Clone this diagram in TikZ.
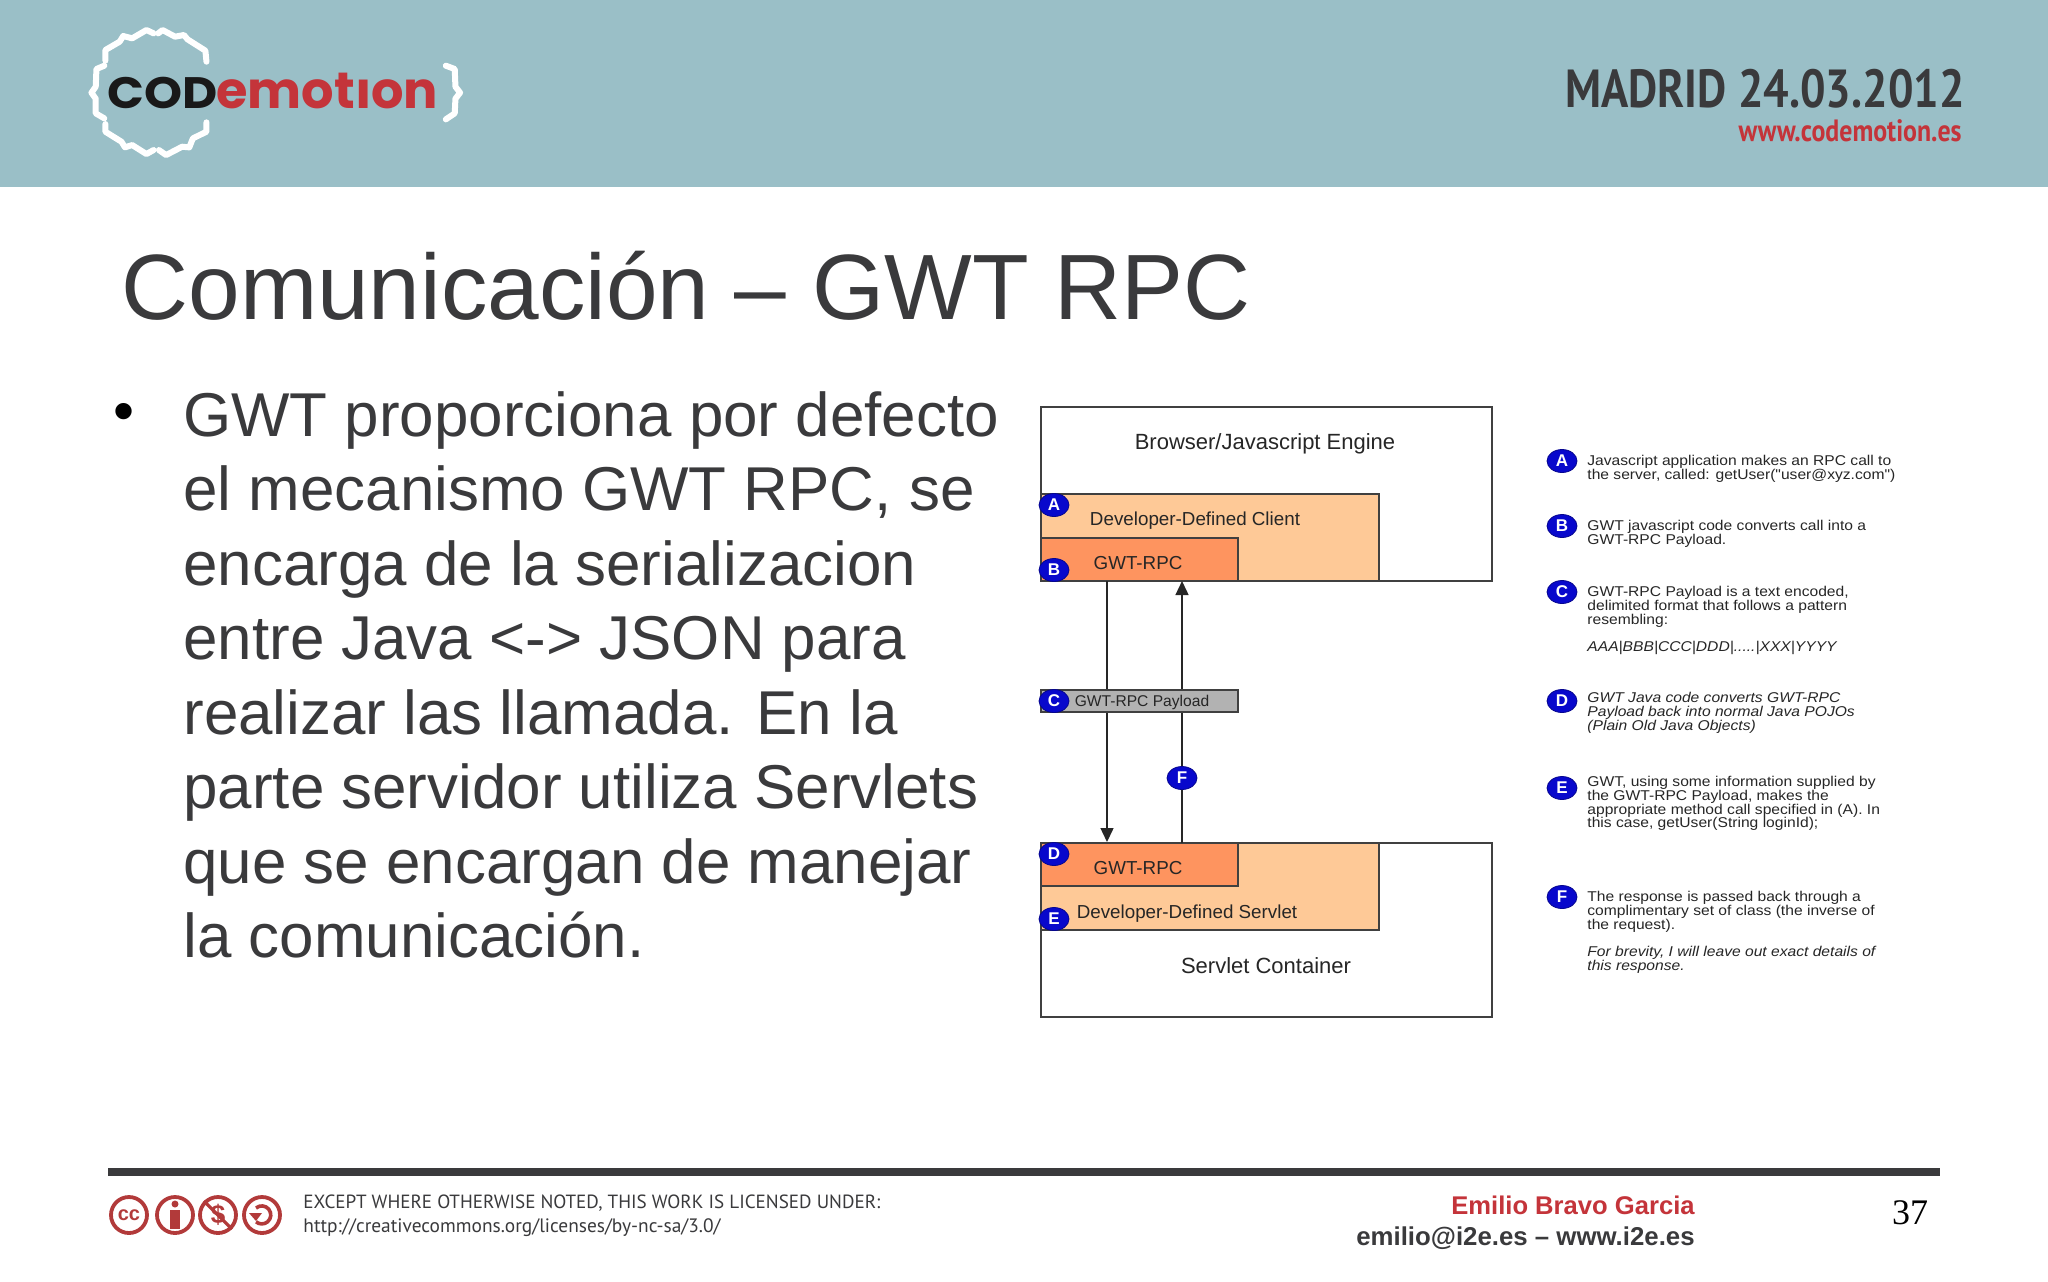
\documentclass[tikz,border=0pt]{standalone}
\usepackage{fontspec}
\usepackage{tikz}
\usetikzlibrary{arrows.meta}
\usetikzlibrary{shapes.geometric}
\setmainfont{Liberation Sans}
\newfontfamily\notefont[FakeStretch=1.1]{Liberation Sans}
\newfontfamily\dinfont[FakeStretch=0.84]{PT Sans}
\newfontfamily\licencefont{PT Sans}
\newfontfamily\logofont{Poppins}
\newfontfamily\logocodefont[FakeStretch=1.1]{Poppins}
\newfontfamily\pagefont{Liberation Serif}
\definecolor{mteal}{HTML}{9ABFC7}
\definecolor{mink}{HTML}{3A3A3C}
\definecolor{mred}{HTML}{C4343A}
\definecolor{mbadge}{HTML}{0808CC}
\definecolor{mcream}{HTML}{FEC997}
\definecolor{morange}{HTML}{FE945F}
\definecolor{mgrey}{HTML}{B2B2B2}
\definecolor{mlicence}{HTML}{B23A3A}
\tikzset{
  box/.style={draw=black!75, line width=0.7pt, anchor=north west, inner sep=0pt, outer sep=0pt},
  badge/.style={ellipse, draw=mbadge!70!black, fill=mbadge, text=white, line width=0.4pt, inner sep=0pt,
    minimum width=15pt, minimum height=11.5pt, font=\fontsize{8.5}{8.5}\selectfont\bfseries},
  boxlabel/.style={inner sep=0pt, text=black!85, font=\fontsize{9.4}{12}\selectfont},
  enginelabel/.style={inner sep=0pt, text=black!85, font=\fontsize{11}{12}\selectfont},
  note/.style={anchor=north west, inner sep=0pt, align=left, text=black!85, font=\notefont\fontsize{7.1}{6.85}\selectfont},
  noteitalic/.style={note, font=\notefont\fontsize{7.1}{6.85}\selectfont\itshape},
  flow/.style={draw=black!85, line width=0.7pt},
  ccring/.style={circle, draw=mlicence, line width=1.9pt, minimum size=18pt, inner sep=0pt, text=mlicence},
  bracket/.style={draw=white, line width=3pt, line join=round, line cap=round},
}

\begin{document}
\begin{tikzpicture}[x=0.5pt, y=-0.5pt]

    \useasboundingbox (0, 0) rectangle (2048, 1281);
    \fill [white] (0, 0) rectangle (2048, 1281);
    \fill [mteal] (0, 0) rectangle (2048, 187);

    \begin{scope}[x=0.1786pt, y=-0.1667pt]
      \draw [bracket] (578, 185) -- (575, 152) -- (525, 118) -- (515, 105) -- (490, 110) -- (455, 90) -- (443, 100);
      \draw [bracket] (430, 100) -- (410, 90) -- (370, 115) -- (345, 108) -- (335, 125) -- (295, 150) -- (295, 182);
      \draw [bracket] (292, 197) -- (270, 207) -- (268, 260) -- (256, 278) -- (268, 296) -- (268, 340) -- (292, 355);
      \draw [bracket] (295, 372) -- (295, 395) -- (340, 425) -- (350, 442) -- (370, 435) -- (410, 462) -- (430, 450);
      \draw [bracket] (445, 450) -- (465, 465) -- (510, 440) -- (530, 442) -- (540, 415) -- (578, 395) -- (578, 367);
      \draw [bracket] (1248, 197) -- (1273, 207) -- (1275, 260) -- (1288, 278) -- (1275, 296) -- (1273, 340) -- (1248, 358);
    \end{scope}
    \node (logocode) [anchor=base west, inner sep=0pt, text=black!90, font=\logocodefont\fontsize{22}{22}\selectfont\bfseries] at (107, 108) {COD};
    \node (logomotion) [anchor=base west, inner sep=0pt, text=mred, font=\logofont\fontsize{25.5}{25.5}\selectfont\bfseries] at (216, 108) {emotıon};

    \node (madrid) [anchor=base east, inner sep=0pt, text=mink, font=\dinfont\fontsize{26.8}{26.8}\selectfont\bfseries] at (1965, 107) {MADRID 24.03.2012};
    \node (website) [anchor=base east, inner sep=0pt, text=mred, font=\dinfont\fontsize{15.4}{15.4}\selectfont\bfseries] at (1962, 141) {www.codemotion.es};

    \node (title) [anchor=base west, inner sep=0pt, text=mink, font=\fontsize{46.4}{46.4}\selectfont] at (121, 319) {Comunicación – GWT RPC};

    \node (bullet) [inner sep=0pt, text=black, font=\fontsize{30}{30}\selectfont] at (124, 417) {•};
    \node (bodytext) [anchor=north west, inner sep=0pt, align=left, text=mink, font=\fontsize{30.95}{37.25}\selectfont] at (183, 391) {GWT proporciona por defecto\\el mecanismo GWT RPC, se\\encarga de la serializacion\\entre Java <-> JSON para\\realizar las llamada. En la\\parte servidor utiliza Servlets\\que se encargan de manejar\\la comunicación.};

    \node (browser) [box, minimum width=225.5pt, minimum height=87pt] at (1041, 407) {};
    \node (client) [box, fill=mcream, minimum width=169pt, minimum height=43.5pt] at (1041, 494) {};
    \node (clientrpc) [box, fill=morange, minimum width=98.5pt, minimum height=21.5pt] at (1041, 538) {};
    \node (container) [box, minimum width=225.5pt, minimum height=87pt] at (1041, 843) {};
    \node (servlet) [box, fill=mcream, minimum width=169pt, minimum height=43.5pt] at (1041, 843) {};
    \node (servletrpc) [box, fill=morange, minimum width=98.5pt, minimum height=21.5pt] at (1041, 843) {};

    \coordinate (reqtop) at (1107, 581);
    \coordinate (reqend) at (1107, 842);
    \coordinate (resptop) at (1182, 581);
    \coordinate (respend) at (1182, 843);
    \draw [flow, -{Triangle[length=7pt, width=6.5pt]}] (reqtop) -- (reqend);
    \draw [flow, -{Triangle[length=7pt, width=6.5pt]}] (respend) -- (resptop);

    \node (payload) [box, fill=mgrey, minimum width=98.5pt, minimum height=11pt] at (1041, 690) {};

    \node (browserlabel) [enginelabel] at (1265, 444) {Browser/Javascript Engine};
    \node (clientlabel) [boxlabel] at (1195, 521) {Developer-Defined Client};
    \node (clientrpclabel) [boxlabel] at (1138, 563) {GWT-RPC};
    \node (payloadlabel) [boxlabel, font=\fontsize{7.8}{9}\selectfont] at (1142, 702) {GWT-RPC Payload};
    \node (servletrpclabel) [boxlabel] at (1138, 868) {GWT-RPC};
    \node (servletlabel) [boxlabel] at (1187, 914) {Developer-Defined Servlet};
    \node (containerlabel) [enginelabel] at (1266, 966) {Servlet Container};

    \node (stepA) [badge] at (1054, 505) {A};
    \node (stepB) [badge] at (1054, 570) {B};
    \node (stepC) [badge] at (1054, 701) {C};
    \node (stepD) [badge] at (1054, 854) {D};
    \node (stepE) [badge] at (1054, 919) {E};
    \node (stepF) [badge] at (1182, 778) {F};

    \node (keyA) [badge] at (1562, 461) {A};
    \node (keyB) [badge] at (1562, 526) {B};
    \node (keyC) [badge] at (1562, 592) {C};
    \node (keyD) [badge] at (1562, 701) {D};
    \node (keyE) [badge] at (1562, 788) {E};
    \node (keyF) [badge] at (1562, 897) {F};

    \node (noteA) [note] at (1587, 455) {Javascript application makes an RPC call to\\the server, called: getUser("user@xyz.com")};
    \node (noteB) [note] at (1587, 520) {GWT javascript code converts call into a\\GWT-RPC Payload.};
    \node (noteC) [note] at (1587, 586) {GWT-RPC Payload is a text encoded,\\delimited format that follows a pattern\\resembling:};
    \node (notepattern) [noteitalic] at (1587, 641) {AAA|BBB|CCC|DDD|.....|XXX|YYYY};
    \node (noteD) [noteitalic] at (1587, 692) {GWT Java code converts GWT-RPC\\Payload back into normal Java POJOs\\(Plain Old Java Objects)};
    \node (noteE) [note] at (1587, 776) {GWT, using some information supplied by\\the GWT-RPC Payload, makes the\\appropriate method call specified in (A). In\\this case, getUser(String loginId);};
    \node (noteF) [note] at (1587, 891) {The response is passed back through a\\complimentary set of class (the inverse of\\the request).};
    \node (notebrevity) [noteitalic] at (1587, 946) {For brevity, I will leave out exact details of\\this response.};

    \fill [mink] (108, 1168) rectangle (1940, 1176);

    \node (ccicon) [ccring, font=\fontsize{10}{10}\selectfont\bfseries] at (129, 1215) {cc};
    \node (byicon) [ccring] at (175, 1215) {};
    \fill [mlicence] (175, 1204) circle (3.5);
    \fill [mlicence] (170, 1210) rectangle (180, 1229);
    \node (ncicon) [ccring, font=\fontsize{13}{13}\selectfont\bfseries] at (218, 1215) {\$};
    \draw [mlicence, line width=1.6pt] (ncicon.north west) -- (ncicon.south east);
    \node (saicon) [ccring] at (262, 1215) {};
    \draw [mlicence, line width=1.8pt] (256, 1208) arc (230:490:9);
    \fill [mlicence] (249, 1213) -- (262, 1213) -- (256, 1221) -- cycle;

    \node (licence) [anchor=base west, inner sep=0pt, text=mink, font=\licencefont\fontsize{9.55}{9.55}\selectfont] at (303, 1208) {EXCEPT WHERE OTHERWISE NOTED, THIS WORK IS LICENSED UNDER:};
    \node (licenceurl) [anchor=base west, inner sep=0pt, text=mink, font=\licencefont\fontsize{9.7}{9.7}\selectfont] at (303, 1232) {http://creativecommons.org/licenses/by-nc-sa/3.0/};

    \node (speaker) [anchor=base east, inner sep=0pt, text=mred, font=\fontsize{12.8}{13}\selectfont\bfseries] at (1695, 1214) {Emilio Bravo Garcia};
    \node (contact) [anchor=base east, inner sep=0pt, text=mink, font=\fontsize{12.9}{13}\selectfont\bfseries] at (1695, 1245) {emilio@i2e.es – www.i2e.es};
    \node (pagenumber) [inner sep=0pt, text=black, font=\pagefont\fontsize{18}{18}\selectfont] at (1910, 1213) {37};
  \end{tikzpicture}
\end{document}
